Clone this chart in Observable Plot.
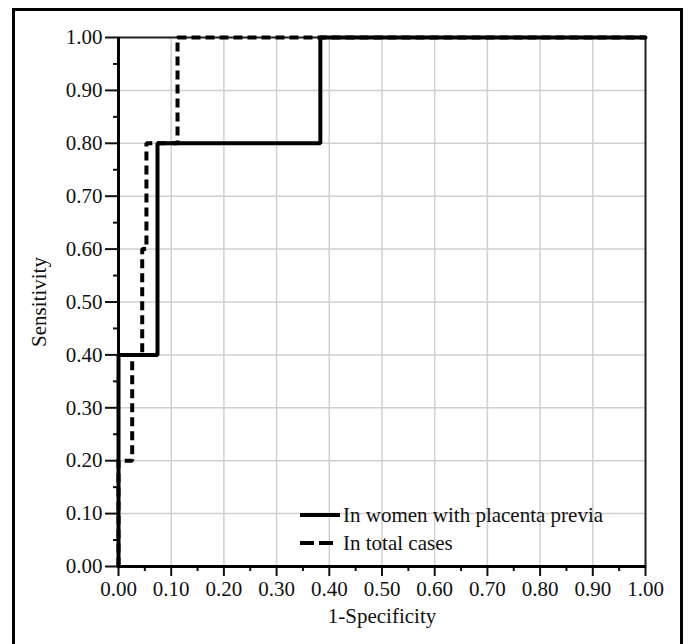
<!DOCTYPE html>
<html>
<head>
<meta charset="utf-8">
<script src="https://cdn.jsdelivr.net/npm/d3@7"></script>
<script src="https://cdn.jsdelivr.net/npm/@observablehq/plot@0.6"></script>
<style>
  html, body { margin: 0; padding: 0; background: #fff; }
  #wrap { position: relative; width: 688px; height: 644px; overflow: hidden; font-family: "Liberation Serif", "Times New Roman", serif; }
  #border { position: absolute; left: 12px; top: 8px; width: 671px; height: 660px; border: 3px solid #000; box-sizing: border-box; }
  #legend { position: absolute; left: 300px; top: 500px; font-size: 21px; color: #111; }
  .row { position: absolute; left: 0; white-space: nowrap; height: 24px; line-height: 24px; }
  .row svg { position: absolute; left: 0; top: 0; }
  .row span { position: absolute; left: 43px; top: 0; }
</style>
</head>
<body>
<div id="wrap">
  <div id="chart"></div>
  <div id="border"></div>
  <div id="legend"></div>
</div>
<script>
// Series names
const seriesNames = ["In women with placenta previa", "In total cases"];
// ROC vertices: 1-specificity (x) and sensitivity (y)
const previaFPR = [0.000, 0.000, 0.074, 0.383, 1.000];
const previaTPR = [0.000, 0.400, 0.800, 1.000, 1.000];
const totalFPR  = [0.000, 0.000, 0.026, 0.045, 0.053, 0.112, 1.000];
const totalTPR  = [0.000, 0.200, 0.400, 0.600, 0.800, 1.000, 1.000];
// Axis ticks
const majorTicks = [0, 0.1, 0.2, 0.3, 0.4, 0.5, 0.6, 0.7, 0.8, 0.9, 1.0];
const minorTicks = [0.05, 0.15, 0.25, 0.35, 0.45, 0.55, 0.65, 0.75, 0.85, 0.95];
const xLabel = "1-Specificity";
const yLabel = "Sensitivity";

const previa = previaFPR.map((x, i) => ({x, y: previaTPR[i]}));
const total = totalFPR.map((x, i) => ({x, y: totalTPR[i]}));
const fmt = d3.format(".2f");

const chart = Plot.plot({
  width: 688,
  height: 644,
  marginLeft: 118,
  marginRight: 43,
  marginTop: 37,
  marginBottom: 78,
  style: { fontFamily: "'Liberation Serif', 'Times New Roman', serif", fontSize: "21px", color: "#111", background: "transparent" },
  x: { domain: [0, 1] },
  y: { domain: [0, 1] },
  marks: [
    Plot.gridX(majorTicks, { stroke: "#d0d0d0", strokeOpacity: 1, strokeWidth: 1.5 }),
    Plot.gridY(majorTicks, { stroke: "#d0d0d0", strokeOpacity: 1, strokeWidth: 1.5 }),
    Plot.frame({ stroke: "#222", strokeWidth: 2 }),
    Plot.axisX(majorTicks, { tickFormat: fmt, tickSize: 10, tickPadding: 5, strokeWidth: 2, label: xLabel, labelAnchor: "center", labelArrow: "none", labelOffset: 56, fontSize: 21 }),
    Plot.axisX(minorTicks, { tickFormat: null, text: null, tickSize: 5, strokeWidth: 2, label: null }),
    Plot.axisY(majorTicks, { tickFormat: fmt, tickSize: 13, tickPadding: 3, strokeWidth: 2, label: yLabel, labelAnchor: "center", labelArrow: "none", labelOffset: 87, fontSize: 21 }),
    Plot.axisY(minorTicks, { tickFormat: null, text: null, tickSize: 5, strokeWidth: 2, label: null }),
    Plot.ruleX([0], { stroke: "#000", strokeWidth: 3 }),
    Plot.ruleY([0], { stroke: "#000", strokeWidth: 3 }),
    Plot.line(total, { x: "x", y: "y", curve: "step-after", stroke: "#000", strokeWidth: 4, strokeDasharray: "9,5", strokeLinecap: "butt", strokeLinejoin: "miter" }),
    Plot.line(previa, { x: "x", y: "y", curve: "step-after", stroke: "#000", strokeWidth: 4, strokeLinejoin: "miter" })
  ]
});
document.getElementById("chart").appendChild(chart);

// Legend (inside plot area, lower middle)
const legend = document.getElementById("legend");
legend.innerHTML =
  `<div class="row" style="top:3px"><svg width="42" height="24"><line x1="0" y1="12" x2="40" y2="12" stroke="#000" stroke-width="4"/></svg><span>${seriesNames[0]}</span></div>` +
  `<div class="row" style="top:31px"><svg width="42" height="24"><line x1="0" y1="12" x2="33" y2="12" stroke="#000" stroke-width="4" stroke-dasharray="14,5"/></svg><span>${seriesNames[1]}</span></div>`;
</script>
</body>
</html>
